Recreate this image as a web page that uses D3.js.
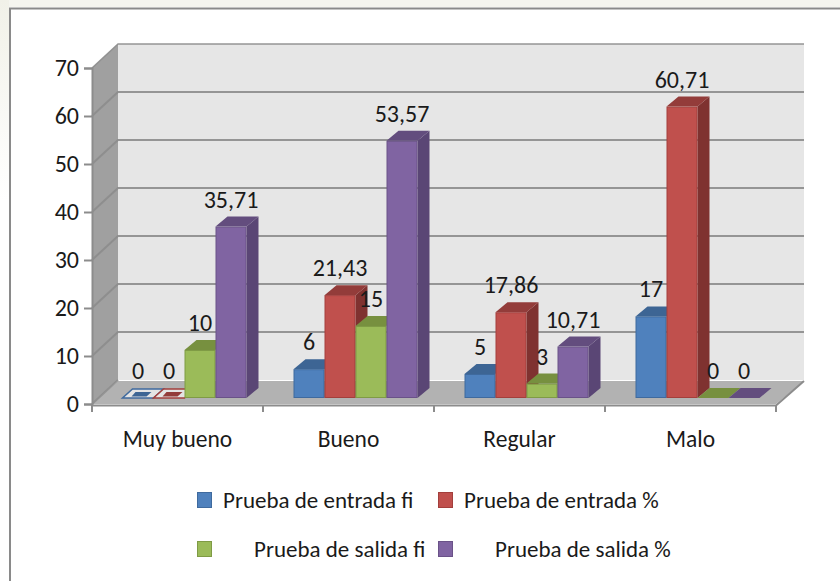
<!DOCTYPE html>
<html><head><meta charset="utf-8">
<script src="https://cdnjs.cloudflare.com/ajax/libs/d3/7.8.5/d3.min.js"></script>
<style>html,body{margin:0;padding:0;background:#fff}svg{display:block}text{font-family:Carlito,"Liberation Sans","Open Sans",sans-serif;fill:#1a1a1a}</style>
</head><body><svg id="c" width="840" height="581"></svg>
<script>
const categories=["Muy bueno","Bueno","Regular","Malo"];
const seriesNames=["Prueba de entrada fi","Prueba de entrada %","Prueba de salida fi","Prueba de salida %"];
const entradaFi=[0,6,5,17];
const entradaPct=[0,21.43,17.86,60.71];
const salidaFi=[10,15,3,0];
const salidaPct=[35.71,53.57,10.71,0];
const labelsText=[["0","6","5","17"],["0","21,43","17,86","60,71"],["10","15","3","0"],["35,71","53,57","10,71","0"]];
const yTicks=[0,10,20,30,40,50,60,70];
const front=["#4f81bd","#c0504d","#9bbb59","#8064a2"];
const side=["#3a5f8c","#7f3230","#71893f","#5a4675"];
const topc=["#3d6594","#933c3a","#77903f","#634d7e"];
const edge=["#3f6a9e","#a33f3c","#7f9b45","#6a5288"];
const series=[entradaFi,entradaPct,salidaFi,salidaPct];

const svg=d3.select("#c");
const defs=svg.append("defs");
const grad=defs.append("linearGradient").attr("id","fade").attr("x1",0).attr("y1",0).attr("x2",0).attr("y2",1);
grad.append("stop").attr("offset",0).attr("stop-color","#f1f1e8");
grad.append("stop").attr("offset",1).attr("stop-color","#ffffff");
svg.append("rect").attr("width",840).attr("height",581).attr("fill","#fff");
svg.append("rect").attr("x",0).attr("y",0).attr("width",840).attr("height",7).attr("fill","#f5f5ef");
svg.append("rect").attr("x",0).attr("y",0).attr("width",9).attr("height",200).attr("fill","url(#fade)");
svg.append("path").attr("d","M10,581V8.5H840").attr("fill","none").attr("stroke","#8a8a8a").attr("stroke-width",2);

const y=d3.scaleLinear().domain([0,70]).range([404,68]);
const x=d3.scaleBand().domain(categories).range([92,776]);
const DX=26,DY=-24;
const poly=(pts,fill,stroke)=>svg.append("polygon").attr("points",pts.map(p=>p.join(",")).join(" ")).attr("fill",fill).attr("stroke",stroke||"none");
const L=92,R=776;
poly([[L+DX,y(70)+DY],[R+DX+2,y(70)+DY],[R+DX+2,y(0)+DY],[L+DX,y(0)+DY]],"#e6e6e6");
poly([[L,y(70)],[L+DX,y(70)+DY],[L+DX,y(0)+DY],[L,y(0)]],"#a0a0a0");
poly([[L,y(0)],[L+DX,y(0)+DY+1],[R+DX+2,y(0)+DY+1],[R,y(0)]],"#b2b2b2");
svg.append("path").attr("d",`M${L},${y(0)+1.5}H${R}L${R+DX+2},${y(0)+DY+1}`).attr("fill","none").attr("stroke","#8c8c8c").attr("stroke-width",2);
yTicks.forEach(t=>{
  svg.append("path").attr("d",`M${L},${y(t)}L${L+DX},${y(t)+DY}${t>0?`H${R+DX+2}`:""}`).attr("fill","none").attr("stroke","#8c8c8c").attr("stroke-width",t==70?1.5:2).attr("stroke-opacity",.9);
});
svg.append("g").attr("transform",`translate(${L},0)`).call(d3.axisLeft(y).tickValues(yTicks).tickSize(8).tickPadding(5))
 .call(g=>{g.selectAll("path,line").attr("stroke","#8c8c8c").attr("stroke-width",2);g.selectAll("text").attr("font-size",24).attr("fill","#1a1a1a").style("font-family",'Carlito,"Liberation Sans",sans-serif');});
svg.append("g").attr("transform",`translate(0,${y(0)+1})`).call(d3.axisBottom(x).tickSize(0).tickPadding(25))
 .call(g=>{g.select("path").remove();g.selectAll("text").attr("font-size",23.5).style("font-family",'Carlito,"Liberation Sans",sans-serif');});
[...categories.map(c=>x(c)),R].forEach(v=>svg.append("line").attr("x1",v).attr("x2",v).attr("y1",405).attr("y2",412).attr("stroke","#8c8c8c").attr("stroke-width",2));
const bw=31,bx=30.5,bdx=12,bdy=-10,base=398;
const h=d3.scaleLinear().domain([0,70]).range([0,336]);
const drawBar=(i,s)=>{
  const v=series[s][i],x0=x(categories[i])+bx+s*bw,x1=x0+bw,t=base-h(v);
  if(v===0){
    if(i===0){
      poly([[x0,base],[x1,base],[x1+bdx-2,base+bdy+1],[x0+bdx-2,base+bdy+1]],"#e4e4e4",edge[s]).attr("stroke-width",1.5);
      poly([[x0+9,base-1.5],[x1-7,base-1.5],[x1-2,base-6],[x0+13,base-6]],topc[s]);
    } else poly([[x0,base],[x1,base],[x1+bdx,base+bdy],[x0+bdx,base+bdy]],topc[s]);
    return;
  }
  poly([[x1,t],[x1+bdx,t+bdy],[x1+bdx,base+bdy],[x1,base]],side[s]);
  poly([[x0,t],[x1,t],[x1+bdx,t+bdy],[x0+bdx,t+bdy]],topc[s]);
  svg.append("rect").attr("x",x0+.5).attr("y",t+.5).attr("width",bw-1).attr("height",h(v)-1).attr("fill",front[s]).attr("stroke",edge[s]);
};
categories.forEach((c,i)=>{series.forEach((_,s)=>drawBar(i,s));});
categories.forEach((c,i)=>series.forEach((vals,s)=>{
  const x0=x(c)+bx+s*bw;
  svg.append("text").attr("x",x0+bw/2).attr("y",base-h(vals[i])-19).attr("text-anchor","middle").attr("font-size",24).text(labelsText[s][i]);
}));
const lg=[[197,492],[438,492],[197,541],[438,541]],lt=[[223,508],[464,508],[254,557],[495,557]];
seriesNames.forEach((n,s)=>{
  svg.append("rect").attr("x",lg[s][0]+.5).attr("y",lg[s][1]+.5).attr("width",14).attr("height",15).attr("fill",front[s]).attr("stroke",edge[s]);
  svg.append("text").attr("x",lt[s][0]).attr("y",lt[s][1]).attr("font-size",23).text(n);
});
</script></body></html>
